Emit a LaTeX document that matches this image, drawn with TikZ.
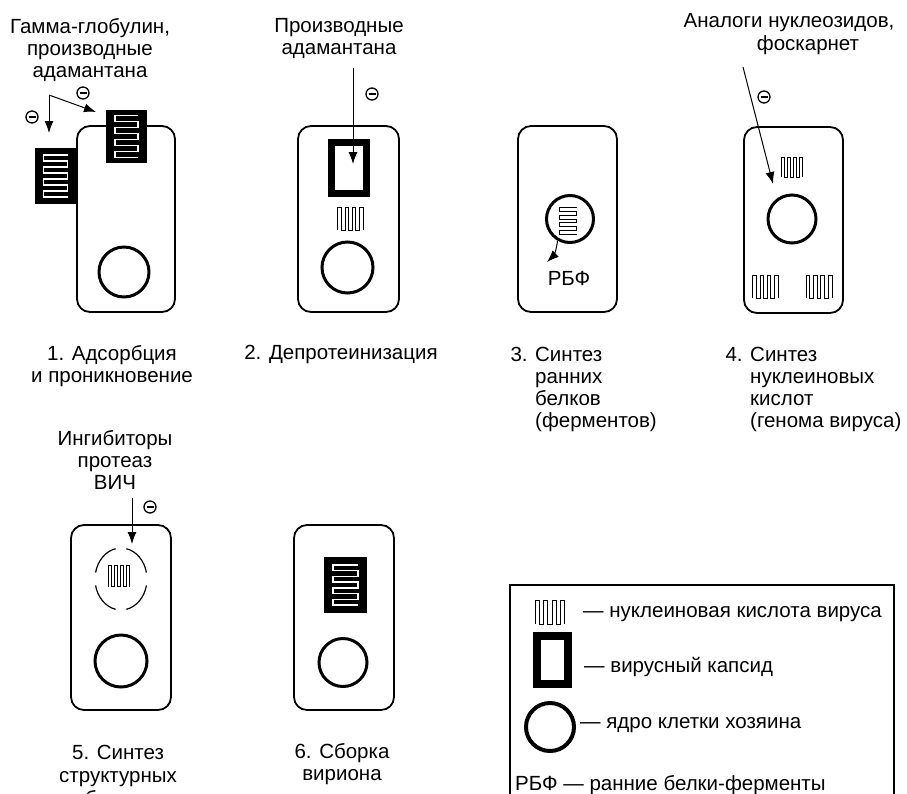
\documentclass[tikz,border=0pt]{standalone}
\usepackage{fontspec}
\setmainfont{Liberation Sans}
\usetikzlibrary{arrows.meta}

\tikzset{
  pics/meander/.style n args={3}{code={
    \draw[nucline] ({-(2*#1-1)*#2/2},{#3/2}) -- ++(0,-#3) -- ++(#2,0) -- ++(0,#3)
      foreach \k in {2,...,#1} {-- ++(#2,0) -- ++(0,-#3) -- ++(#2,0) -- ++(0,#3)};
  }}
}

\begin{document}
\begin{tikzpicture}[x=1pt,y=-1pt,
    font=\fontsize{20.5}{22}\selectfont,
    every node/.style={inner sep=0pt},
    nucline/.style={line width=0.9pt},
    ladder/.style={rotate=90,nucline/.style={line width=1.4pt}},
    cellbox/.style={draw,line width=1.8pt,rounded corners=13pt,minimum width=#1,minimum height=186pt},
    nucleus/.style={circle,draw,line width=3pt,minimum size=#1},
    capsid/.style={draw,line width=7pt,minimum width=35pt,minimum height=51pt},
    fullcapsid/.style={fill=black,minimum width=42pt,minimum height=55pt},
    inh/.style={circle,draw,line width=1.3pt,minimum size=12pt,
      path picture={\draw[line width=1.8pt] ([xshift=-3.5pt]path picture bounding box.center) -- ([xshift=3.5pt]path picture bounding box.center);}},
    arr/.style={line width=1pt,-{Latex[length=12pt,width=9pt]}}]
\useasboundingbox (0,0) rectangle (907,793);

\node[cellbox=98] (cell1) at (126,219) {};
\node[fullcapsid,minimum width=41pt,minimum height=53pt] (cap1a) at (126.5,136.5) {};
\pic[white,ladder] at (cap1a) {meander={4}{6}{23}};
\node[fullcapsid,minimum width=41pt,minimum height=56pt] (cap1b) at (55.5,176) {};
\pic[white,ladder] at (cap1b) {meander={4}{6}{24}};
\node[nucleus=50] (nuc1) at (124,272) {};
\coordinate (fork1) at (49,95);
\coordinate (tip1a) at (49,133);
\coordinate (tip1b) at (96,112);
\draw[arr] (fork1) -- (tip1a);
\draw[arr] (fork1) -- (tip1b);
\node[inh] (m1a) at (83,93) {};
\node[inh] (m1b) at (32,117) {};

\node[cellbox=101] (cell2) at (348.5,219) {};
\node[capsid] (cap2) at (349,168) {};
\pic at (350.5,218.5) {meander={4}{3.6}{23}};
\node[nucleus=51] (nuc2) at (347.5,267.5) {};
\coordinate (from2) at (353,68);
\coordinate (tip2) at (353,164);
\draw[arr] (from2) -- (tip2);
\node[inh] (m2) at (372,94) {};

\node[cellbox=99] (cell3) at (567.5,219) {};
\node[nucleus=47] (nuc3) at (570,219) {};
\pic[rotate=90] at (568,221) {meander={4}{3.8}{17}};
\node[anchor=base] (rbf) at (569,285) {РБФ};
\coordinate (tip3) at (547,262);
\draw[arr] (nuc3.240) to[bend left=20] (tip3);

\node[cellbox=99] (cell4) at (793.5,220) {};
\node[nucleus=48] (nuc4) at (792,219) {};
\pic at (792,167) {meander={4}{2.9}{20}};
\pic at (765.5,286.5) {meander={4}{3.6}{23}};
\pic at (819,286.5) {meander={4}{3.7}{23}};
\coordinate (from4) at (743,67);
\coordinate (tip4) at (773,184);
\draw[arr] (from4) -- (tip4);
\node[inh] (m4) at (764,97) {};

\node[cellbox=100,minimum height=185pt] (cell5) at (121,617.5) {};
\coordinate (ves5) at (121,579);
\foreach \a in {12,102,192,282}
  \draw[line width=1.2pt] (ves5) ++(\a:26 and 31) arc[start angle=\a,delta angle=66,x radius=26,y radius=31];
\pic at (119,576) {meander={4}{3.1}{21}};
\node[nucleus=52] (nuc5) at (121,661) {};
\coordinate (from5) at (132,498);
\coordinate (tip5) at (132,544);
\draw[arr] (from5) -- (tip5);
\node[inh] (m5) at (150,507) {};

\node[cellbox=100,minimum height=185pt] (cell6) at (344,617.5) {};
\node[fullcapsid,minimum width=43pt,minimum height=56pt] (cap6) at (345.5,585) {};
\pic[white,ladder] at (cap6) {meander={4}{5.7}{25}};
\node[nucleus=48] (nuc6) at (343,662.5) {};

\node[anchor=north,align=center] (drug1) at (90,18) {Гамма-глобулин,\\производные\\адамантана};
\node[anchor=north,align=center] (drug2) at (339,18) {Производные\\адамантана};
\node[anchor=base] (drug4a) at (789,27) {Аналоги нуклеозидов,};
\node[anchor=base] (drug4b) at (808,50) {фоскарнет};
\node[anchor=north,align=center] (drug5) at (115,430) {Ингибиторы\\протеаз\\ВИЧ};

\node[anchor=north,align=center] (step1) at (112,345) {1. Адсорбция\\и проникновение};
\node[anchor=base] (step2) at (341,359) {2. Депротеинизация};
\node[anchor=north west,align=left] (step3) at (535,347) {\llap{3. }Синтез\\ранних\\белков\\(ферментов)};
\node[anchor=north west,align=left] (step4) at (750,347) {\llap{4. }Синтез\\нуклеиновых\\кислот\\(генома вируса)};
\node[anchor=north,align=center,font=\fontsize{20.5}{23}\selectfont] (step5) at (118,745) {5. Синтез\\структурных\\белков};
\node[anchor=north,align=center] (step6) at (342,743) {6. Сборка\\вириона};

\draw[line width=1.3pt] (510,830) -- (510,585) -- (894,585) -- (894,830);
\pic at (550,612) {meander={4}{4.2}{24}};
\node[anchor=base west] (key1) at (583,617) {— нуклеиновая кислота вируса};
\node[capsid,line width=8pt,minimum width=31pt,minimum height=48pt] (key2sym) at (552.5,660) {};
\node[anchor=base west] (key2) at (584,672) {— вирусный капсид};
\node[nucleus=48,line width=4pt] (key3sym) at (550,727) {};
\node[anchor=base west] (key3) at (580,728) {— ядро клетки хозяина};
\node[anchor=base west] (key4) at (515,790) {РБФ — ранние белки-ферменты};
\end{tikzpicture}
\end{document}
